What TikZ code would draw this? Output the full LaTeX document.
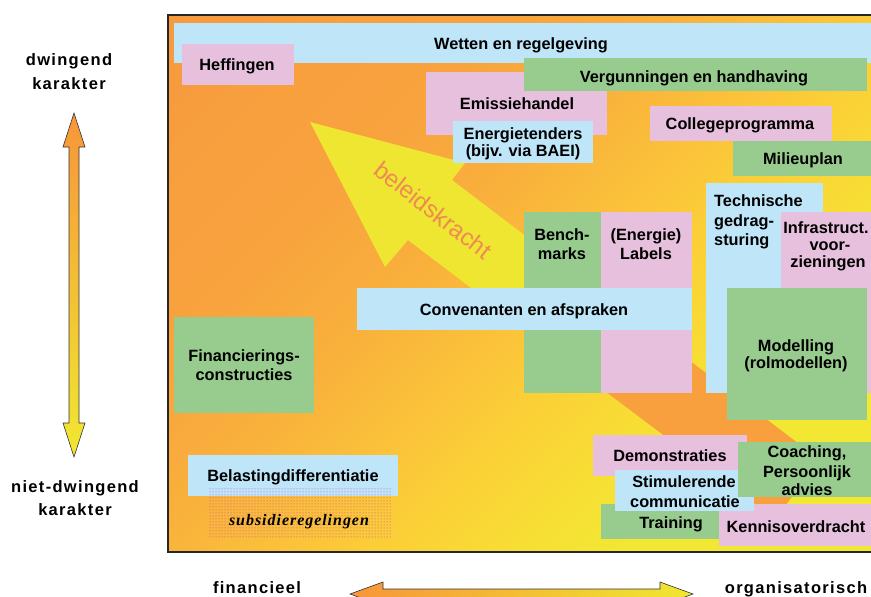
\documentclass[tikz,border=0pt]{standalone}
\usepackage{fontspec}
\setmainfont{Liberation Sans}
\newfontfamily\axfont{Liberation Sans}[LetterSpace=8]
\newfontfamily\subfont{Liberation Serif}[LetterSpace=6]
\usetikzlibrary{patterns}
\definecolor{boxblue}{RGB}{190,229,248}
\definecolor{boxpink}{RGB}{231,192,221}
\definecolor{boxgreen}{RGB}{152,204,142}
\definecolor{bg1}{HTML}{F79A3E}
\definecolor{bg2}{HTML}{F8A33E}
\definecolor{bg3}{HTML}{F9B03C}
\definecolor{bg4}{HTML}{FBC23A}
\definecolor{bg5}{HTML}{FBCF37}
\definecolor{bg6}{HTML}{F7E034}
\definecolor{bgY}{HTML}{F2E833}
\definecolor{arY}{HTML}{EEE630}
\definecolor{arO}{HTML}{F7A03D}
\definecolor{bkcol}{HTML}{EF8A55}
\definecolor{axO}{HTML}{F7953A}
\definecolor{axY}{HTML}{F0E830}
\definecolor{subdot}{RGB}{190,60,190}
\pgfdeclareverticalshading{bgsh}{100bp}{color(0bp)=(bgY); color(28.8bp)=(bgY); color(34.4bp)=(bg6); color(43bp)=(bg5); color(48.6bp)=(bg4); color(57.1bp)=(bg3); color(66.3bp)=(bg2); color(85.4bp)=(bg1); color(100bp)=(bg1)}
\tikzset{
  lbl/.style={font=\fontsize{16.3}{18}\selectfont\bfseries, inner sep=0pt, anchor=base},
  lblw/.style={lbl, anchor=base west},
  axlbl/.style={font=\axfont\fontsize{16.5}{18}\selectfont\bfseries, inner sep=0pt, anchor=base},
  axarrow/.style={draw=black!80, line width=0.6pt},
}
\begin{document}
\begin{tikzpicture}[x=1pt,y=-1pt]
\useasboundingbox[fill=white] (0,0) rectangle (871,597);
\clip (0,0) rectangle (871,597);
% frame with gradient
\shade[shading=bgsh, shading angle=45] (168,15) rectangle (880,552);
% big arrow: yellow head, orange tail (cut hidden behind boxes)
\fill[arY] (310,122) -- (465,163) -- (452,180) -- (820,460) -- (775,519) -- (408,240) -- (385,267) -- cycle;
\fill[arO] (601,293) -- (820,460) -- (775,519) -- (553,352) -- cycle;
\node[font=\fontsize{24}{26}\selectfont, text=bkcol, rotate=-38, inner sep=0pt] (bk) at (433,210) {beleidskracht};
% boxes
\fill[boxblue]  (174,23) rectangle (880,63);
\fill[boxpink]  (182,44) rectangle (294,85);
\fill[boxpink]  (426,72) rectangle (607,135);
\fill[boxgreen] (524,58) rectangle (867,91);
\fill[boxblue]  (453,121) rectangle (593,163);
\fill[boxpink]  (650,106) rectangle (832,141);
\fill[boxgreen] (733,141) rectangle (880,176);
\fill[boxblue]  (706,183) rectangle (823,393);
\fill[boxpink]  (781,212) rectangle (880,393);
\fill[boxgreen] (727,288) rectangle (867,420);
\fill[boxgreen] (524,212) rectangle (601,393);
\fill[boxpink]  (601,212) rectangle (692,393);
\fill[boxblue]  (357,288) rectangle (692,330);
\fill[boxgreen] (174,317) rectangle (314,413);
\fill[boxblue]  (188,455) rectangle (398,496);
\fill[pattern=dots, pattern color=subdot] (208,488) rectangle (391,538);
\fill[boxpink]  (593,435) rectangle (747,476);
\fill[boxgreen] (601,504) rectangle (720,539);
\fill[boxpink]  (719,504) rectangle (880,546);
\fill[boxblue]  (615,470) rectangle (754,511);
\fill[boxgreen] (738,442) rectangle (880,497);
% frame border
\draw[line width=1.4pt, black!85] (168,15) rectangle (880,552);
% labels
\node[lbl] (wet) at (521,49) {Wetten en regelgeving};
\node[lbl] (hef) at (237,70) {Heffingen};
\node[lbl] (emi) at (517,109) {Emissiehandel};
\node[lbl] (ene1) at (523,139) {Energietenders};
\node[lbl] (ene2) at (523,156) {(bijv. via BAEI)};
\node[lbl] (ver) at (694,82) {Vergunningen en handhaving};
\node[lbl] (col) at (740,129) {Collegeprogramma};
\node[lbl] (mil) at (803,164) {Milieuplan};
\node[lblw] (tec1) at (714,206) {Technische};
\node[lblw] (tec2) at (714,226) {gedrag-};
\node[lblw] (tec3) at (714,245) {sturing};
\node[lbl] (inf1) at (826,233) {Infrastruct.};
\node[lbl] (inf2) at (830,250) {voor-};
\node[lbl] (inf3) at (828,267) {zieningen};
\node[lbl] (ben1) at (562,240) {Bench-};
\node[lbl] (ben2) at (562,259) {marks};
\node[lbl] (lab1) at (646,240) {(Energie)};
\node[lbl] (lab2) at (646,259) {Labels};
\node[lbl] (con) at (524,315) {Convenanten en afspraken};
\node[lbl] (mod1) at (796,351) {Modelling};
\node[lbl] (mod2) at (796,368) {(rolmodellen)};
\node[lbl] (fin1) at (244,361) {Financierings-};
\node[lbl] (fin2) at (244,380) {constructies};
\node[lbl] (bel) at (293,481) {Belastingdifferentiatie};
\node[font=\subfont\fontsize{16}{18}\selectfont\bfseries\itshape, inner sep=0pt, anchor=base] (sub) at (299,525) {subsidieregelingen};
\node[lbl] (dem) at (670,461) {Demonstraties};
\node[lbl] (sti1) at (684,487) {Stimulerende};
\node[lbl] (sti2) at (685,507) {communicatie};
\node[lbl] (coa1) at (807,457) {Coaching,};
\node[lbl] (coa2) at (807,477) {Persoonlijk};
\node[lbl] (coa3) at (807,495) {advies};
\node[lbl] (tra) at (671,528) {Training};
\node[lbl] (ken) at (796,532) {Kennisoverdracht};
% axis arrows
\draw[axarrow, top color=axO, bottom color=axY] (74,113) -- (85,147) -- (79,147) -- (79,423) -- (85,423) -- (74,457) -- (63,423) -- (69,423) -- (69,147) -- (63,147) -- cycle;
\draw[axarrow, left color=axO, right color=axY] (350,594) -- (383,582) -- (383,589) -- (660,589) -- (660,582) -- (693,594) -- (660,606) -- (660,599) -- (383,599) -- (383,606) -- cycle;
% axis labels
\node[axlbl] (dw1) at (69,65) {dwingend};
\node[axlbl] (dw2) at (69,89) {karakter};
\node[axlbl] (nd1) at (75,492) {niet-dwingend};
\node[axlbl] (nd2) at (75,515) {karakter};
\node[axlbl] (fi) at (257,593) {financieel};
\node[axlbl] (or) at (796,593) {organisatorisch};
\end{tikzpicture}
\end{document}
